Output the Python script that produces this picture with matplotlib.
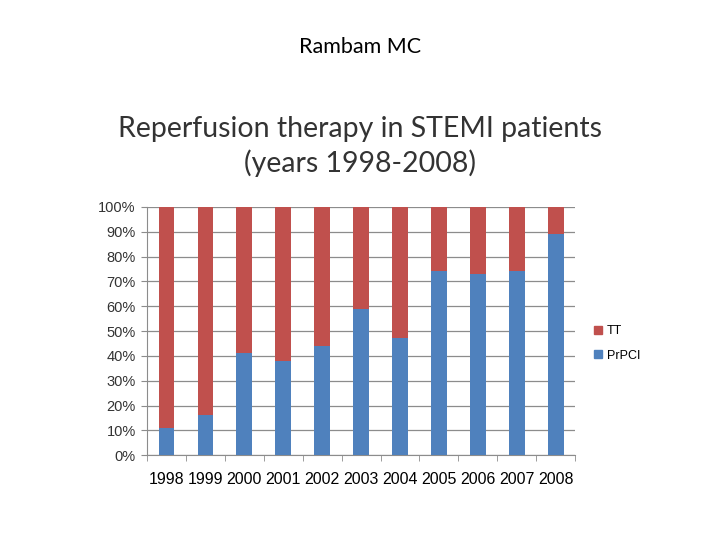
import numpy as np
import matplotlib
matplotlib.use("Agg")
import matplotlib.pyplot as plt
from matplotlib.patches import Patch

years = ["1998", "1999", "2000", "2001", "2002", "2003",
         "2004", "2005", "2006", "2007", "2008"]
pr_pci = [11, 16, 41, 38, 44, 59, 47, 74, 73, 74, 89]
tt = [100 - v for v in pr_pci]

BLUE = "#4F81BD"
RED = "#C0504D"

fig = plt.figure(figsize=(7.2, 5.4), dpi=100)
ax = fig.add_axes([0.204, 0.157, 0.595, 0.46])

x = np.arange(len(years))
ax.bar(x, pr_pci, width=0.4, color=BLUE, zorder=3)
ax.bar(x, tt, width=0.4, bottom=pr_pci, color=RED, zorder=3)

ax.set_xlim(-0.5, len(years) - 0.5)
ax.set_ylim(0, 100)
ax.set_yticks(range(0, 101, 10))
ax.set_yticklabels([f"{v}%" for v in range(0, 101, 10)],
                   family="Liberation Sans", fontsize=10.5, color="#333333")
ax.yaxis.grid(True, color="#8c8c8c", linewidth=0.9, zorder=0)
ax.tick_params(axis="y", length=4, color="#8c8c8c", pad=4)

ax.set_xticks(x)
ax.set_xticklabels(years, family="Liberation Sans", fontsize=11.5)
ax.set_xticks(np.arange(-0.5, len(years), 1), minor=True)
ax.tick_params(axis="x", which="major", length=0, pad=12)
ax.tick_params(axis="x", which="minor", length=4, color="#8c8c8c")

for side in ("top", "right"):
    ax.spines[side].set_visible(False)
for side in ("left", "bottom"):
    ax.spines[side].set_color("#8c8c8c")

handles = [Patch(color=RED, label="TT"), Patch(color=BLUE, label="PrPCI")]
fig.legend(handles=handles, loc="center left", bbox_to_anchor=(0.81, 0.364),
           frameon=False, prop={"family": "Liberation Sans", "size": 9},
           handlelength=0.6, handleheight=0.6, handletextpad=0.4,
           labelspacing=1.0)

fig.text(0.5, 0.913, "Rambam MC", ha="center", va="center",
         family="Lato", fontsize=15.5)
fig.text(0.5, 0.762, "Reperfusion therapy in STEMI patients",
         ha="center", va="center", family="Lato", fontsize=20.5, color="#333333")
fig.text(0.5, 0.697, "(years 1998-2008)",
         ha="center", va="center", family="Lato", fontsize=20.5, color="#333333")

fig.savefig("out.png", dpi=100)
